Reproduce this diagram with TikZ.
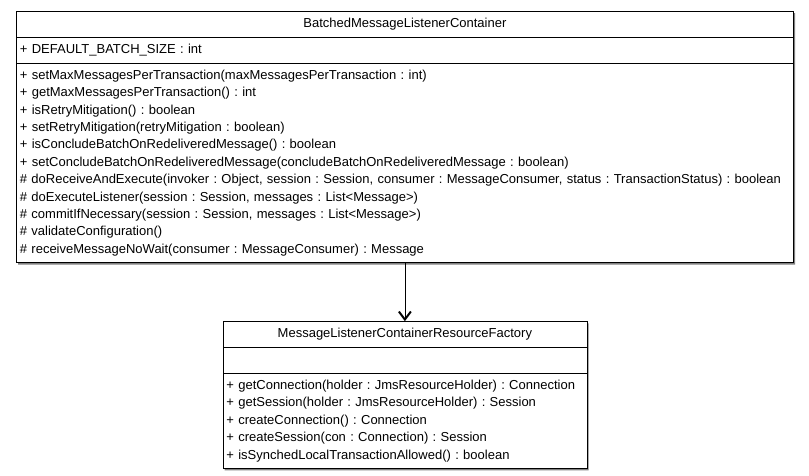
\documentclass[tikz,border=0pt]{standalone}
\usepackage{fontspec}
\setmainfont{Liberation Sans}
\usetikzlibrary{shapes}
\usetikzlibrary{shadows}
\usetikzlibrary{arrows.meta}
\usetikzlibrary{positioning}

\begin{document}
\frenchspacing
\begin{tikzpicture}[x=1pt,y=1pt]
			\tikzstyle{umlclass}=[rectangle split, rectangle split parts=3, draw=black, line width=0.8pt, fill=white, align=left, inner xsep=3.5pt, inner ysep=3.8pt, font=\fontsize{13}{17.4}\selectfont, drop shadow={shadow xshift=1.8pt, shadow yshift=-1.8pt, fill=gray, opacity=1}]
			\tikzstyle{depends}=[-{Straight Barb[length=8pt,width=12pt,line width=2pt]}, line width=0.8pt]

			\useasboundingbox (0,0) rectangle (809,-475);

			\node[umlclass, text width=770pt, anchor=north west] (container) at (16,-11) {\strut\hfill BatchedMessageListenerContainer\hfill\strut
				\nodepart{two}\strut + DEFAULT\_BATCH\_SIZE : int
				\nodepart{three}\strut + setMaxMessagesPerTransaction(maxMessagesPerTransaction : int)\\
				\strut + getMaxMessagesPerTransaction() : int\\
				\strut + isRetryMitigation() : boolean\\
				\strut + setRetryMitigation(retryMitigation : boolean)\\
				\strut + isConcludeBatchOnRedeliveredMessage() : boolean\\
				\strut + setConcludeBatchOnRedeliveredMessage(concludeBatchOnRedeliveredMessage : boolean)\\
				\strut \mbox{\# doReceiveAndExecute(invoker : Object, session : Session, consumer : MessageConsumer, status : TransactionStatus) : boolean}\\
				\strut \# doExecuteListener(session : Session, messages : List<Message>)\\
				\strut \# commitIfNecessary(session : Session, messages : List<Message>)\\
				\strut \# validateConfiguration()\\
				\strut \# receiveMessageNoWait(consumer : MessageConsumer) : Message};

			\node[umlclass, text width=357pt, below=58pt of container] (factory) {\strut\hfill MessageListenerContainerResourceFactory\hfill\strut
				\nodepart{two}\strut
				\nodepart{three}\strut + getConnection(holder : JmsResourceHolder) : Connection\\
				\strut + getSession(holder : JmsResourceHolder) : Session\\
				\strut + createConnection() : Connection\\
				\strut + createSession(con : Connection) : Session\\
				\strut + isSynchedLocalTransactionAllowed() : boolean};

			\draw[depends] (container) -- (factory);
\end{tikzpicture}
\end{document}
